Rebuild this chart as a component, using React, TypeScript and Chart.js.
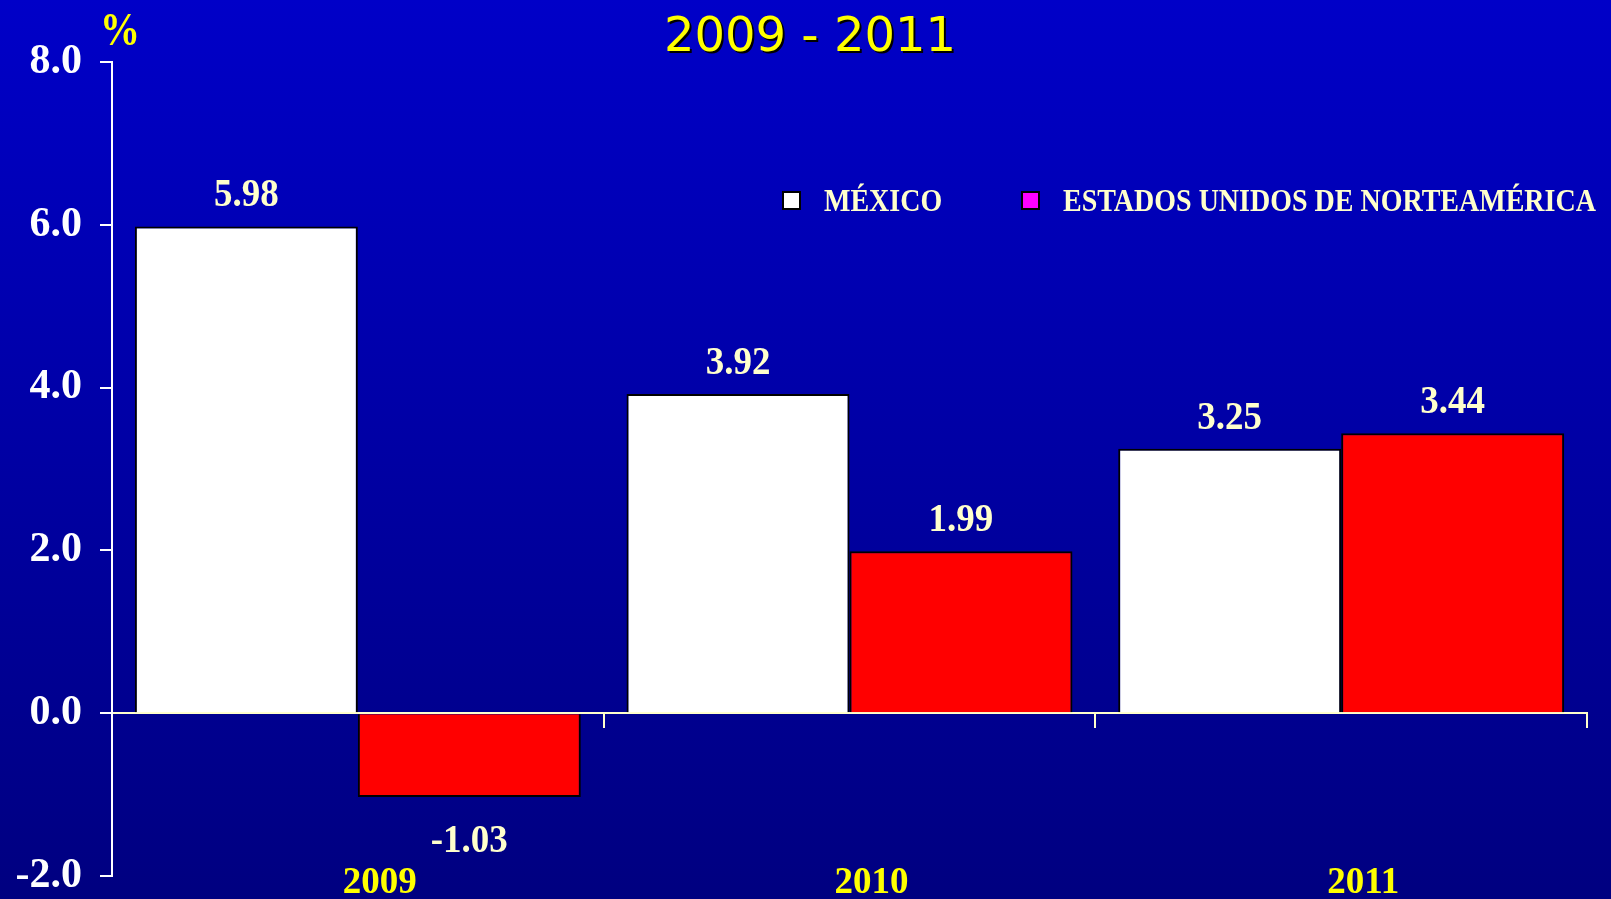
import { useEffect, useRef } from "react";
import { Chart, registerables } from "chart.js";

Chart.register(...registerables);

// Annual growth, per cent
const years = ["2009", "2010", "2011"];
const mexico = [5.98, 3.92, 3.25];
const usa = [-1.03, 1.99, 3.44];
const seriesNames = ["MÉXICO", "ESTADOS UNIDOS DE NORTEAMÉRICA"];
const yMin = -2;
const yMax = 8;
const yStep = 2;
const titleText = "2009 - 2011";
const unitText = "%";

const SERIF = '"Liberation Serif", "Times New Roman", serif';
const SANS = '"DejaVu Sans", Verdana, sans-serif';
const CREAM = "#FFFFCC";
const YELLOW = "#FFFF00";
const BAR_WHITE = "#FFFFFF";
const BAR_RED = "#FF0000";
const SWATCH_MAGENTA = "#FF00FF";

// Text drawn slightly taller than wide, as in the slide's lettering.
function stretchedText(
  ctx: CanvasRenderingContext2D,
  text: string,
  x: number,
  baseline: number,
  font: string,
  color: string,
  align: CanvasTextAlign,
  sy: number
) {
  ctx.save();
  ctx.translate(x, baseline);
  ctx.scale(1, sy);
  ctx.font = font;
  ctx.fillStyle = color;
  ctx.textAlign = align;
  ctx.textBaseline = "alphabetic";
  ctx.fillText(text, 0, 0);
  ctx.restore();
}

const decorations = {
  id: "decorations",
  afterDraw(chart: any) {
    const ctx: CanvasRenderingContext2D = chart.ctx;
    ctx.save();

    // Title with a drop shadow
    ctx.font = `48px ${SANS}`;
    ctx.textAlign = "center";
    ctx.textBaseline = "alphabetic";
    ctx.fillStyle = "#000000";
    ctx.fillText(titleText, 812, 53);
    ctx.fillStyle = YELLOW;
    ctx.fillText(titleText, 810, 51);

    // Unit above the value axis
    stretchedText(ctx, unitText, 120, 45, `bold 40px ${SERIF}`, YELLOW, "center", 1.17);

    // Legend
    const swatches = [
      { x: 783, color: BAR_WHITE, textX: 824 },
      { x: 1022, color: SWATCH_MAGENTA, textX: 1063 },
    ];
    swatches.forEach((s, i) => {
      ctx.fillStyle = s.color;
      ctx.fillRect(s.x, 192, 17, 17);
      ctx.strokeStyle = "#000000";
      ctx.lineWidth = 2;
      ctx.strokeRect(s.x, 192, 17, 17);
      stretchedText(ctx, seriesNames[i], s.textX, 211, `bold 28px ${SERIF}`, CREAM, "left", 1.12);
    });

    // Value labels on the bars
    chart.data.datasets.forEach((ds: any, i: number) => {
      const meta = chart.getDatasetMeta(i);
      meta.data.forEach((bar: any, j: number) => {
        const v = ds.data[j] as number;
        const baseline = v >= 0 ? bar.y - 20 : bar.y + 55;
        stretchedText(ctx, v.toFixed(2), bar.x, baseline, `bold 37px ${SERIF}`, CREAM, "center", 1.1);
      });
    });

    ctx.restore();
  },
};

export default function App() {
  const canvasRef = useRef<HTMLCanvasElement | null>(null);

  useEffect(() => {
    const canvas = canvasRef.current;
    if (!canvas) return;
    const chart = new Chart(canvas, {
      type: "bar",
      data: {
        labels: years,
        datasets: [
          {
            label: seriesNames[0],
            data: mexico,
            backgroundColor: BAR_WHITE,
            borderColor: "#000000",
            borderWidth: 2,
            xAxisID: "x",
            yAxisID: "y",
          },
          {
            label: seriesNames[1],
            data: usa,
            backgroundColor: BAR_RED,
            borderColor: "#000000",
            borderWidth: 2,
            xAxisID: "x",
            yAxisID: "y",
          },
        ],
      },
      options: {
        responsive: false,
        devicePixelRatio: 1,
        animation: false,
        layout: { padding: { top: 62, right: 24, bottom: 0, left: 0 } },
        datasets: {
          bar: { categoryPercentage: 0.907, barPercentage: 1.0 },
        },
        plugins: {
          legend: { display: false },
          title: { display: false },
          tooltip: { enabled: false },
        },
        scales: {
          // Category axis drawn along the zero line
          x: {
            type: "category",
            position: { y: 0 } as any,
            offset: true,
            z: 1,
            grid: {
              offset: true,
              drawOnChartArea: false,
              drawTicks: true,
              tickLength: 14,
              color: CREAM,
              lineWidth: 2,
            },
            border: { display: true, color: CREAM, width: 2 },
            ticks: { display: false },
            afterFit: (scale: any) => {
              scale.height = 0;
            },
          },
          // Year labels along the bottom
          x2: {
            type: "category",
            position: "bottom",
            offset: true,
            grid: { display: false, drawTicks: false },
            border: { display: false },
            ticks: {
              color: YELLOW,
              mirror: true,
              padding: -26,
              labelOffset: 22,
              maxRotation: 0,
              font: { family: SERIF, size: 37, weight: "bold", lineHeight: 1 },
            },
            afterFit: (scale: any) => {
              scale.height = 23;
              scale.paddingLeft = 0;
              scale.paddingRight = 0;
            },
          },
          y: {
            type: "linear",
            min: yMin,
            max: yMax,
            grid: {
              drawOnChartArea: false,
              drawTicks: true,
              tickLength: 12,
              color: "#FFFFFF",
              lineWidth: 2,
            },
            border: { display: true, color: "#FFFFFF", width: 2 },
            ticks: {
              stepSize: yStep,
              color: "#FFFFFF",
              padding: 18,
              font: { family: SERIF, size: 42, weight: "bold" },
              callback: (v: any) => Number(v).toFixed(1),
            },
            afterFit: (scale: any) => {
              scale.width = 112;
              scale.paddingTop = 0;
              scale.paddingBottom = 0;
            },
          },
        },
      } as any,
      plugins: [decorations],
    });
    return () => chart.destroy();
  }, []);

  return (
    <div
      style={{
        position: "fixed",
        left: 0,
        top: 0,
        width: 1611,
        height: 899,
        background: "linear-gradient(to bottom, #0000C8 0%, #000080 100%)",
        overflow: "hidden",
      }}
    >
      <canvas ref={canvasRef} width={1611} height={899} style={{ display: "block" }} />
    </div>
  );
}
